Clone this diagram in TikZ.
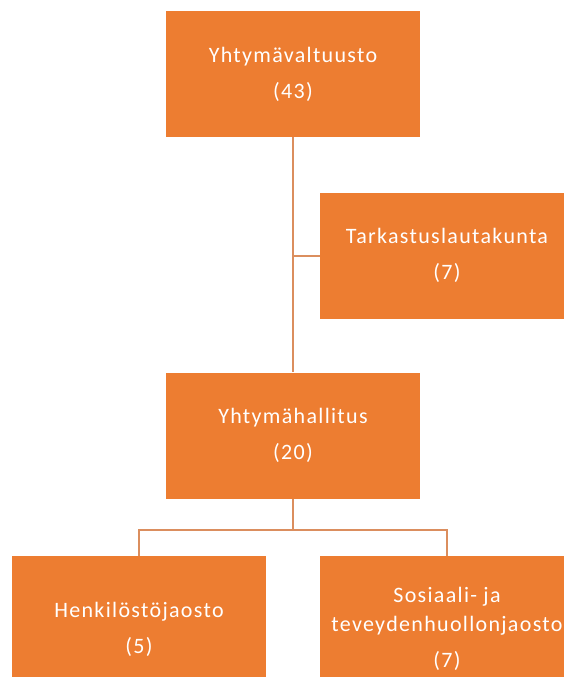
\documentclass[tikz,border=0pt]{standalone}
\usepackage{fontspec}
\setmainfont{Carlito}[LetterSpace=6]
\usetikzlibrary{positioning}
\definecolor{boxorange}{HTML}{ED7D31}
\definecolor{linkorange}{HTML}{DB8E5E}
\tikzset{
  orgbox/.style={fill=boxorange, text=white, align=center, inner sep=0pt,
    minimum width=254pt, minimum height=126pt,
    font=\fontsize{22}{29}\selectfont},
  lowbox/.style={orgbox, minimum height=146pt},
  link/.style={draw=linkorange, line width=2pt}
}
\begin{document}
\begin{tikzpicture}
        [x=1pt, y=-1pt]
        \useasboundingbox (0,0) rectangle (564,677);
        \clip (0,0) rectangle (564,677);
        \node[orgbox] (valtuusto) at (293,74) {Yhtymävaltuusto\\[7pt](43)};
        \node[orgbox] (tarkastus) at (447,255.5) {Tarkastuslautakunta\\[7pt](7)};
        \node[orgbox] (hallitus) at (293,435.5) {Yhtymähallitus\\[7pt](20)};
        \node[lowbox] (henkilosto) at (139,629) {Henkilöstöjaosto\\[7pt](5)};
        \node[lowbox] (sosiaali) at (447,629) {Sosiaali- ja\\teveydenhuollonjaosto\\[7pt](7)};
        \coordinate (split) at (293,530);
        \draw[link] (valtuusto.south) -- (hallitus.north);
        \draw[link] (tarkastus.west) -- (valtuusto.south |- tarkastus.west);
        \draw[link] (hallitus.south) -- (split);
        \draw[link] (split) -| (henkilosto.north);
        \draw[link] (split) -| (sosiaali.north);
    \end{tikzpicture}
\end{document}
